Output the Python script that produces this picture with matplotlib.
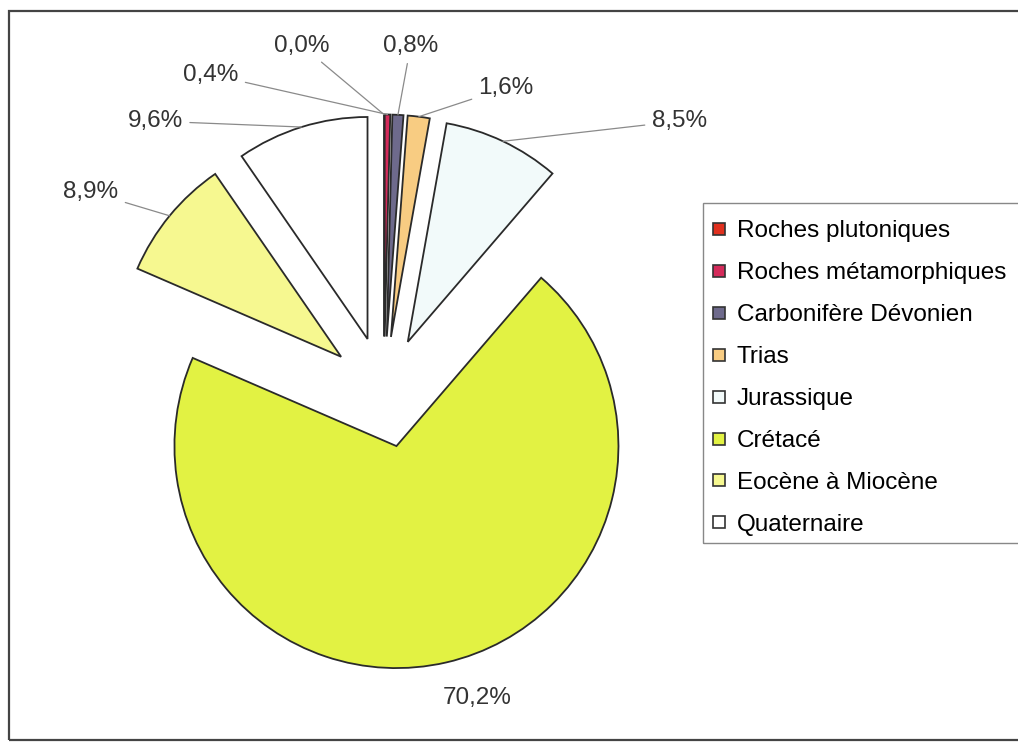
import numpy as np
import matplotlib
matplotlib.use('Agg')
import matplotlib.pyplot as plt
from matplotlib.lines import Line2D
from matplotlib.patches import Rectangle

plt.rcParams['font.family'] = ['Liberation Sans', 'DejaVu Sans']

#---------- Données ----------#
categories = ['Roches plutoniques', 'Roches métamorphiques', 'Carbonifère Dévonien',
              'Trias', 'Jurassique', 'Crétacé', 'Eocène à Miocène', 'Quaternaire']
values = [0.0, 0.4, 0.8, 1.6, 8.5, 70.2, 8.9, 9.6]
labels = ['0,0%', '0,4%', '0,8%', '1,6%', '8,5%', '70,2%', '8,9%', '9,6%']
colors = ['#e0301e', '#d42a5a', '#6e6a8c', '#f8cc82', '#f2fafa',
          '#e2f243', '#f6f890', '#ffffff']

# position des étiquettes (unités du camembert) et si on trace un trait
label_pos = [(-0.37, 1.56), (-0.78, 1.43), (0.12, 1.56), (0.55, 1.37),
             (1.33, 1.22), (0.42, -1.38), (-1.32, 0.90), (-1.03, 1.22)]
leader = [True, True, True, True, True, False, True, True]

W, H = 1018, 742
scale = 222.0          # pixels par rayon
cx, cy = 384.0, 392.0  # centre du camembert (pixels)
expl = 0.25

fig = plt.figure(figsize=(W / 100, H / 100), dpi=100)
ax = fig.add_axes([0, 0, 1, 1])

wedges, _ = ax.pie(values, colors=colors, startangle=90, counterclock=False,
                   explode=[expl] * len(values), radius=1.0,
                   wedgeprops=dict(edgecolor='#2a2a2a', linewidth=1.3))
ax.set_xlim(-cx / scale, (W - cx) / scale)
ax.set_ylim(-(H - cy) / scale, cy / scale)
ax.set_aspect('auto')
ax.axis('off')

for w, lab, pos, ld in zip(wedges, labels, label_pos, leader):
    mid = np.deg2rad((w.theta1 + w.theta2) / 2)
    tip = ((1 + expl) * np.cos(mid), (1 + expl) * np.sin(mid))
    if ld:
        ax.annotate(lab, xy=tip, xytext=pos, ha='center', va='center',
                    fontsize=17.5, color='#333333',
                    arrowprops=dict(arrowstyle='-', color='#8a8a8a', lw=0.9,
                                    shrinkA=3, shrinkB=0))
    else:
        ax.text(pos[0], pos[1], lab, ha='center', va='center',
                fontsize=17.5, color='#333333')

handles = [Line2D([0], [0], marker='s', linestyle='none', markersize=8,
                  markerfacecolor=c, markeredgecolor='#333333', markeredgewidth=1.2)
           for c in colors]
leg = fig.legend(handles, categories, loc='upper left',
                 bbox_to_anchor=(704 / W, 1 - 213 / H), fontsize=17.5,
                 frameon=False, labelspacing=0.82, handlelength=0.6,
                 handletextpad=0.45, borderpad=0.3, borderaxespad=0)

# cadre de la légende
fig.patches.append(Rectangle((703 / W, 1 - 543 / H), 0.4, (543 - 203) / H,
                             transform=fig.transFigure, fill=False,
                             edgecolor='#888888', linewidth=1.0))
# cadre du graphique
fig.patches.append(Rectangle((9 / W, 2 / H), 1.2, (740 - 11) / H,
                             transform=fig.transFigure, fill=False,
                             edgecolor='#444444', linewidth=1.6))

fig.savefig('out.png', dpi=100)
plt.close()
